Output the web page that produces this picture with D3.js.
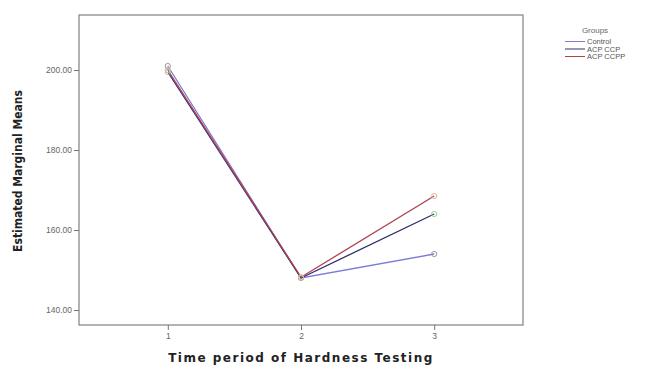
<!DOCTYPE html>
<html lang="en">
<head>
<meta charset="UTF-8">
<title>Estimated Marginal Means</title>
<script src="https://d3js.org/d3.v7.min.js"></script>
<style>
    body { margin: 0; background: #fff; }
    svg { display: block; font-family: "Liberation Sans", Arial, sans-serif; }
    .tick text { fill: #666; font-size: 8.5px; }
    .tick line { stroke: #777; }
    .domain { stroke: none; }
</style>
</head>
<body>
<svg id="canvas" width="645" height="365"></svg>
<script>
    // data
    let periods = [1, 2, 3];
    let groups = ["Control", "ACP CCP", "ACP CCPP"];
    let control = [201.0, 148.0, 154.0];
    let acpCcp = [199.5, 148.0, 164.0];
    let acpCcpp = [200.0, 148.2, 168.5];
    let yTicks = [140, 160, 180, 200];

    let series = [
        {name: groups[0], values: control, color: "#7c7cd6", marker: "#9a9a9a"},
        {name: groups[1], values: acpCcp, color: "#2e2e6e", marker: "#8fd08f"},
        {name: groups[2], values: acpCcpp, color: "#b0404e", marker: "#e8b0a8"}
    ];

    let svg = d3.select("svg");
    let mLeft = 79, mRight = 523, mTop = 15, mBottom = 325;

    let x = d3.scaleLinear().domain([1/3, 3 + 2/3]).range([mLeft, mRight]);
    let y = d3.scaleLinear().domain([136.25, 213.75]).range([mBottom, mTop]);

    // frame
    svg.append("rect")
        .attr("x", mLeft).attr("y", mTop)
        .attr("width", mRight - mLeft).attr("height", mBottom - mTop)
        .attr("fill", "none").attr("stroke", "#8a8a8a").attr("stroke-width", 1.3);

    svg.append("g")
        .attr("transform", "translate(" + mLeft + ",0)")
        .call(d3.axisLeft(y).tickValues(yTicks).tickSize(5).tickPadding(2).tickFormat(d3.format(".2f")));

    svg.append("g")
        .attr("transform", "translate(0," + mBottom + ")")
        .call(d3.axisBottom(x).tickValues(periods).tickSize(5).tickPadding(3).tickFormat(d3.format("d")));

    let line = d3.line()
        .x((d, i) => x(periods[i]))
        .y(d => y(d));

    let lines = svg.append("g");
    series.forEach(s => {
        lines.append("path")
            .datum(s.values)
            .attr("d", line)
            .attr("fill", "none")
            .attr("stroke", s.color)
            .attr("stroke-width", 1.3);
    });
    series.forEach(s => {
        lines.selectAll(null)
            .data(s.values)
            .enter()
            .append("circle")
            .attr("cx", (d, i) => x(periods[i]))
            .attr("cy", d => y(d))
            .attr("r", 2.6)
            .attr("fill", "none")
            .attr("stroke", s.marker)
            .attr("stroke-width", 1);
    });

    // axis titles
    svg.append("text")
        .attr("transform", "translate(22,171) rotate(-90)")
        .attr("text-anchor", "middle")
        .attr("font-size", 12)
        .attr("font-weight", "bold")
        .attr("font-family", "'DejaVu Sans Condensed', sans-serif")
        .attr("fill", "#222")
        .text("Estimated Marginal Means");

    svg.append("text")
        .attr("x", 301).attr("y", 362)
        .attr("text-anchor", "middle")
        .attr("font-size", 12)
        .attr("font-weight", "bold")
        .attr("font-family", "'DejaVu Sans', Verdana, sans-serif")
        .attr("letter-spacing", 1.5)
        .attr("fill", "#222")
        .text("Time period of Hardness Testing");

    // legend
    let legend = svg.append("g").attr("transform", "translate(565,0)");
    legend.append("text")
        .attr("x", 30).attr("y", 33)
        .attr("text-anchor", "middle")
        .attr("font-size", 8)
        .attr("fill", "#666")
        .text("Groups");
    series.forEach((s, i) => {
        let ly = 44 + i * 7.5;
        legend.append("line")
            .attr("x1", 0).attr("x2", 20)
            .attr("y1", ly - 2.5).attr("y2", ly - 2.5)
            .attr("stroke", s.color).attr("stroke-width", 1);
        legend.append("text")
            .attr("x", 22).attr("y", ly)
            .attr("font-size", 7.5)
            .attr("fill", "#555")
            .text(s.name);
    });
</script>
</body>
</html>
